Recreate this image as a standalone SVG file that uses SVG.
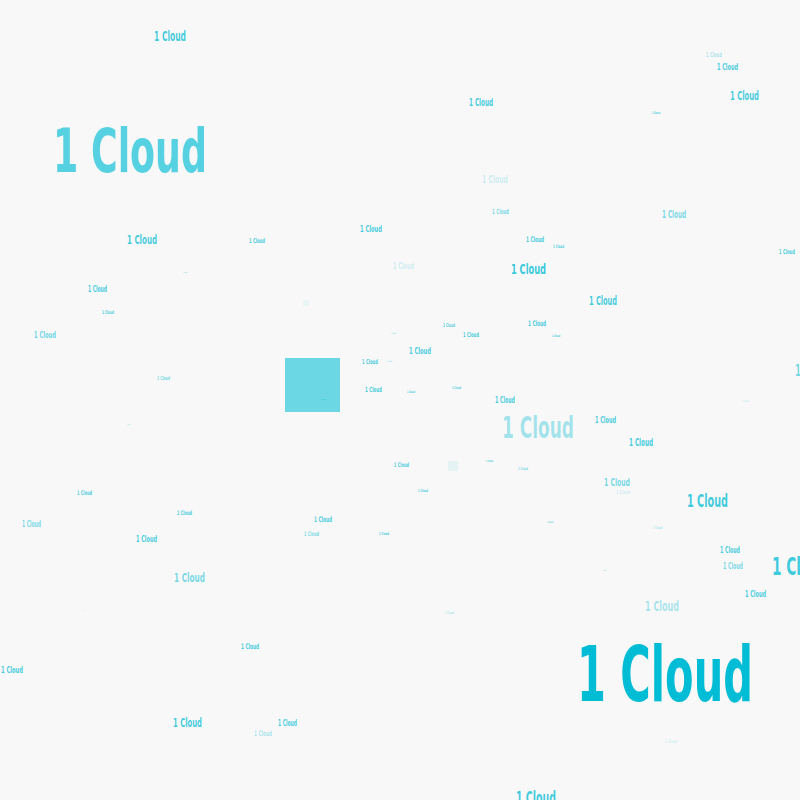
<svg xmlns="http://www.w3.org/2000/svg" width="800" height="800" viewBox="0 0 800 800">
<style>
text{font-family:"DejaVu Sans Condensed","Liberation Sans Narrow","Liberation Sans",sans-serif;font-stretch:condensed;font-weight:bold;fill:#00bcd4}
.a{fill-opacity:1}.b{fill-opacity:.75}.c{fill-opacity:.55}.d{fill-opacity:.35}.e{fill-opacity:.2}
</style>
<rect width="800" height="800" fill="#f8f8f8"/>
<g id="shapes">
<rect x="285" y="358" width="55" height="54" fill="#00bcd4" fill-opacity="0.57"/>
<rect x="303" y="300" width="6" height="6" fill="#00bcd4" fill-opacity="0.06"/>
<rect x="448" y="461" width="10" height="10" fill="#00bcd4" fill-opacity="0.07"/>
</g>
<g id="labels">
<text class="b" x="154" y="41" font-size="13.5" textLength="32" lengthAdjust="spacingAndGlyphs">1 Cloud</text>
<text class="d" x="706" y="57.4" font-size="6.7" textLength="16" lengthAdjust="spacingAndGlyphs">1 Cloud</text>
<text class="b" x="717" y="70.2" font-size="8.9" textLength="21" lengthAdjust="spacingAndGlyphs">1 Cloud</text>
<text class="b" x="730" y="100.4" font-size="12.2" textLength="29" lengthAdjust="spacingAndGlyphs">1 Cloud</text>
<text class="b" x="469" y="105.6" font-size="10.1" textLength="24" lengthAdjust="spacingAndGlyphs">1 Cloud</text>
<text class="b" x="652" y="114.2" font-size="3.4" textLength="8" lengthAdjust="spacingAndGlyphs">1 Cloud</text>
<text x="53" y="172" font-size="60" textLength="154" lengthAdjust="spacingAndGlyphs" fill-opacity="0.66">1 Cloud</text>
<text class="e" x="482" y="183" font-size="11" textLength="26" lengthAdjust="spacingAndGlyphs">1 Cloud</text>
<text class="c" x="492" y="213.6" font-size="7.2" textLength="17" lengthAdjust="spacingAndGlyphs">1 Cloud</text>
<text class="c" x="662" y="217.6" font-size="10.1" textLength="24" lengthAdjust="spacingAndGlyphs">1 Cloud</text>
<text class="b" x="127" y="243.5" font-size="12.6" textLength="30" lengthAdjust="spacingAndGlyphs">1 Cloud</text>
<text class="b" x="249" y="243.4" font-size="6.7" textLength="16" lengthAdjust="spacingAndGlyphs">1 Cloud</text>
<text class="b" x="360" y="232.3" font-size="9.3" textLength="22" lengthAdjust="spacingAndGlyphs">1 Cloud</text>
<text class="b" x="526" y="241.7" font-size="7.6" textLength="18" lengthAdjust="spacingAndGlyphs">1 Cloud</text>
<text class="b" x="553" y="247.7" font-size="4.6" textLength="11" lengthAdjust="spacingAndGlyphs">1 Cloud</text>
<text class="b" x="779" y="254.4" font-size="6.7" textLength="16" lengthAdjust="spacingAndGlyphs">1 Cloud</text>
<text class="e" x="393" y="269.2" font-size="8.9" textLength="21" lengthAdjust="spacingAndGlyphs">1 Cloud</text>
<text x="511" y="274.3" font-size="14.7" textLength="35" lengthAdjust="spacingAndGlyphs" fill-opacity="0.8">1 Cloud</text>
<text class="c" x="183" y="272.6" font-size="1.7" textLength="4" lengthAdjust="spacingAndGlyphs">1 Cloud</text>
<text class="b" x="88" y="291.9" font-size="8" textLength="19" lengthAdjust="spacingAndGlyphs">1 Cloud</text>
<text class="b" x="589" y="305.2" font-size="11.8" textLength="28" lengthAdjust="spacingAndGlyphs">1 Cloud</text>
<text class="b" x="102" y="313.8" font-size="5" textLength="12" lengthAdjust="spacingAndGlyphs">1 Cloud</text>
<text x="34" y="338.3" font-size="9.3" textLength="22" lengthAdjust="spacingAndGlyphs" fill-opacity="0.6">1 Cloud</text>
<text class="b" x="443" y="326.8" font-size="5" textLength="12" lengthAdjust="spacingAndGlyphs">1 Cloud</text>
<text class="b" x="528" y="325.7" font-size="7.6" textLength="18" lengthAdjust="spacingAndGlyphs">1 Cloud</text>
<text class="b" x="463" y="337.4" font-size="6.7" textLength="16" lengthAdjust="spacingAndGlyphs">1 Cloud</text>
<text class="b" x="552" y="337.2" font-size="3.4" textLength="8" lengthAdjust="spacingAndGlyphs">1 Cloud</text>
<text class="c" x="391" y="333.8" font-size="2.1" textLength="5" lengthAdjust="spacingAndGlyphs">1 Cloud</text>
<text class="b" x="409" y="354.3" font-size="9.3" textLength="22" lengthAdjust="spacingAndGlyphs">1 Cloud</text>
<text class="b" x="362" y="364.4" font-size="6.7" textLength="16" lengthAdjust="spacingAndGlyphs">1 Cloud</text>
<text class="c" x="387" y="361.8" font-size="2.1" textLength="5" lengthAdjust="spacingAndGlyphs">1 Cloud</text>
<text class="c" x="157" y="380" font-size="5.5" textLength="13" lengthAdjust="spacingAndGlyphs">1 Cloud</text>
<text class="b" x="365" y="391.6" font-size="7.2" textLength="17" lengthAdjust="spacingAndGlyphs">1 Cloud</text>
<text class="b" x="407" y="393.2" font-size="3.4" textLength="8" lengthAdjust="spacingAndGlyphs">1 Cloud</text>
<text class="b" x="452" y="389.4" font-size="3.8" textLength="9" lengthAdjust="spacingAndGlyphs">1 Cloud</text>
<text class="b" x="321" y="399.5" font-size="1.6" textLength="4" lengthAdjust="spacingAndGlyphs">1 Cloud</text>
<text class="b" x="495" y="403" font-size="8.4" textLength="20" lengthAdjust="spacingAndGlyphs">1 Cloud</text>
<text class="d" x="502" y="438" font-size="30.5" textLength="72" lengthAdjust="spacingAndGlyphs">1 Cloud</text>
<text class="b" x="595" y="423.3" font-size="9" textLength="21" lengthAdjust="spacingAndGlyphs">1 Cloud</text>
<text class="b" x="629" y="445.8" font-size="10.1" textLength="24" lengthAdjust="spacingAndGlyphs">1 Cloud</text>
<text class="c" x="127" y="424.5" font-size="1.3" textLength="3" lengthAdjust="spacingAndGlyphs">1 Cloud</text>
<text class="b" x="394" y="467.3" font-size="6.3" textLength="15" lengthAdjust="spacingAndGlyphs">1 Cloud</text>
<text class="b" x="486" y="462" font-size="3" textLength="7" lengthAdjust="spacingAndGlyphs">1 Cloud</text>
<text class="c" x="518" y="469.5" font-size="4.2" textLength="10" lengthAdjust="spacingAndGlyphs">1 Cloud</text>
<text class="c" x="604" y="486" font-size="11" textLength="26" lengthAdjust="spacingAndGlyphs">1 Cloud</text>
<text class="e" x="616" y="494" font-size="5.3" textLength="14" lengthAdjust="spacingAndGlyphs">1 Cloud</text>
<text class="b" x="687" y="507.2" font-size="17.2" textLength="41" lengthAdjust="spacingAndGlyphs">1 Cloud</text>
<text class="b" x="77" y="495.3" font-size="6.3" textLength="15" lengthAdjust="spacingAndGlyphs">1 Cloud</text>
<text class="b" x="418" y="491.5" font-size="4.2" textLength="10" lengthAdjust="spacingAndGlyphs">1 Cloud</text>
<text class="c" x="22" y="526.9" font-size="8" textLength="19" lengthAdjust="spacingAndGlyphs">1 Cloud</text>
<text class="b" x="177" y="515.3" font-size="6.3" textLength="15" lengthAdjust="spacingAndGlyphs">1 Cloud</text>
<text class="b" x="314" y="521.7" font-size="7.6" textLength="18" lengthAdjust="spacingAndGlyphs">1 Cloud</text>
<text class="c" x="304" y="536.3" font-size="6.3" textLength="15" lengthAdjust="spacingAndGlyphs">1 Cloud</text>
<text class="b" x="379" y="534.5" font-size="4.2" textLength="10" lengthAdjust="spacingAndGlyphs">1 Cloud</text>
<text class="b" x="136" y="542.2" font-size="8.9" textLength="21" lengthAdjust="spacingAndGlyphs">1 Cloud</text>
<text class="b" x="547" y="522.9" font-size="2.5" textLength="6" lengthAdjust="spacingAndGlyphs">1 Cloud</text>
<text class="d" x="653" y="529" font-size="4" textLength="9" lengthAdjust="spacingAndGlyphs">1 Cloud</text>
<text class="b" x="720" y="553" font-size="8.4" textLength="20" lengthAdjust="spacingAndGlyphs">1 Cloud</text>
<text class="c" x="723" y="569" font-size="8.4" textLength="20" lengthAdjust="spacingAndGlyphs">1 Cloud</text>
<text class="b" x="772" y="575" font-size="24" textLength="58" lengthAdjust="spacingAndGlyphs">1 Cloud</text>
<text class="b" x="603" y="570.5" font-size="1.3" textLength="3" lengthAdjust="spacingAndGlyphs">1 Cloud</text>
<text class="c" x="174" y="581.7" font-size="13" textLength="31" lengthAdjust="spacingAndGlyphs">1 Cloud</text>
<text class="d" x="645" y="611" font-size="14.5" textLength="34" lengthAdjust="spacingAndGlyphs">1 Cloud</text>
<text class="b" x="745" y="597.2" font-size="8.9" textLength="21" lengthAdjust="spacingAndGlyphs">1 Cloud</text>
<text class="d" x="445" y="614.4" font-size="3.8" textLength="9" lengthAdjust="spacingAndGlyphs">1 Cloud</text>
<text class="e" x="82" y="610.6" font-size="1.7" textLength="4" lengthAdjust="spacingAndGlyphs">1 Cloud</text>
<text class="b" x="241" y="648.7" font-size="7.6" textLength="18" lengthAdjust="spacingAndGlyphs">1 Cloud</text>
<text class="b" x="1" y="673.3" font-size="9.3" textLength="22" lengthAdjust="spacingAndGlyphs">1 Cloud</text>
<text class="b" x="173" y="727.4" font-size="12.2" textLength="29" lengthAdjust="spacingAndGlyphs">1 Cloud</text>
<text class="b" x="278" y="725.9" font-size="8" textLength="19" lengthAdjust="spacingAndGlyphs">1 Cloud</text>
<text class="d" x="254" y="735.7" font-size="7.6" textLength="18" lengthAdjust="spacingAndGlyphs">1 Cloud</text>
<text class="e" x="665" y="742.8" font-size="5" textLength="12" lengthAdjust="spacingAndGlyphs">1 Cloud</text>
<text class="b" x="516" y="804" font-size="16.8" textLength="40" lengthAdjust="spacingAndGlyphs">1 Cloud</text>
<text class="c" x="795" y="376" font-size="15" textLength="36" lengthAdjust="spacingAndGlyphs">1 Cloud</text>
<text class="e" x="741" y="402" font-size="3.4" textLength="8" lengthAdjust="spacingAndGlyphs">1 Cloud</text>
<text class="a" x="577" y="701" font-size="77" textLength="176" lengthAdjust="spacingAndGlyphs">1 Cloud</text>
</g>
</svg>
